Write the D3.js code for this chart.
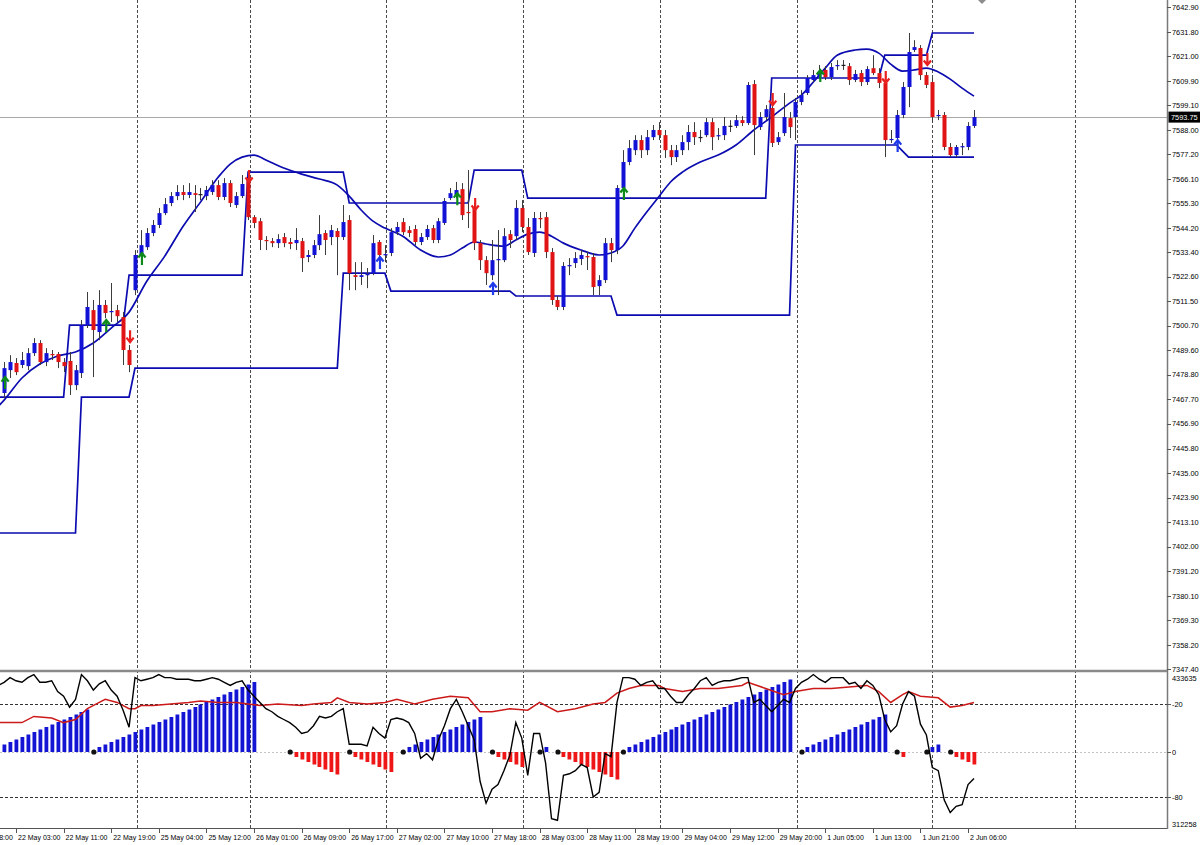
<!DOCTYPE html>
<html>
<head>
<meta charset="utf-8">
<script src="https://cdn.jsdelivr.net/npm/d3@7"></script>
<style>
  body { margin: 0; background: #fff; }
  svg { display: block; }
  text { font-family: "Liberation Sans", Arial, sans-serif; }
</style>
</head>
<body>
<svg id="chart" width="1200" height="845"></svg>
<script>
// ---- data ----
const barCount = 164;

// [open, high, low, close] per hourly bar
const candles = [
[7470.6,7484.4,7468.3,7481.7],[7480.8,7487.5,7477.3,7484.4],[7484.0,7486.2,7478.6,7479.9],[7483.1,7488.9,7481.7,7485.3],
[7482.6,7490.6,7480.8,7488.4],[7488.4,7495.1,7487.1,7492.9],[7492.9,7494.2,7483.1,7484.4],[7484.4,7490.6,7482.6,7488.4],
[7488.0,7489.8,7485.3,7487.5],[7488.0,7488.9,7481.7,7484.4],[7484.4,7486.2,7479.9,7482.6],[7484.9,7488.9,7469.7,7474.1],
[7474.1,7483.1,7471.9,7480.8],[7479.5,7503.2,7477.3,7500.9],[7500.9,7515.7,7499.6,7509.0],[7507.6,7512.1,7477.7,7498.7],
[7497.8,7516.5,7494.2,7509.9],[7509.9,7512.1,7504.0,7506.3],[7506.7,7519.7,7502.3,7507.2],[7507.6,7509.9,7502.3,7504.9],
[7504.5,7506.7,7483.1,7489.8],[7489.8,7492.0,7479.9,7483.1],
[7516.5,7534.4,7514.3,7532.2],[7532.2,7543.3,7530.8,7536.6],[7535.7,7544.2,7534.4,7542.0],[7542.0,7547.8,7540.6,7545.6],
[7545.6,7553.2,7544.2,7550.9],[7550.9,7557.6,7550.0,7554.9],[7555.4,7560.3,7554.0,7558.5],[7558.5,7563.4,7556.7,7560.3],
[7560.3,7563.4,7556.7,7559.0],[7559.0,7564.3,7557.6,7560.3],[7559.8,7563.4,7551.4,7559.0],[7559.4,7562.1,7556.7,7559.3],
[7558.5,7563.0,7556.7,7561.2],[7560.3,7565.6,7559.0,7563.4],[7563.4,7565.6,7556.7,7558.1],[7558.1,7566.5,7556.7,7564.3],
[7564.3,7565.6,7553.6,7555.4],[7554.5,7560.3,7553.2,7558.5],[7558.5,7567.9,7557.6,7563.9],[7566.5,7569.2,7547.8,7549.1],
[7549.1,7550.0,7544.2,7546.5],[7547.3,7548.7,7534.4,7538.9],[7538.9,7540.6,7534.4,7538.4],[7538.4,7539.8,7535.7,7537.5],
[7537.5,7541.5,7535.3,7539.3],[7540.2,7542.0,7535.7,7537.5],[7538.0,7539.8,7534.8,7537.1],[7537.5,7544.2,7534.4,7538.9],
[7538.4,7539.8,7524.6,7530.8],[7531.3,7534.4,7529.0,7532.2],[7532.2,7538.9,7530.8,7536.6],[7536.6,7550.0,7534.4,7541.5],
[7542.0,7543.3,7532.2,7538.9],[7540.2,7545.6,7536.6,7543.3],[7542.9,7544.2,7523.2,7540.2],[7540.2,7554.5,7538.9,7546.9],
[7547.8,7550.0,7516.5,7524.1],
[7523.2,7529.0,7516.5,7522.4],[7522.4,7529.0,7518.8,7523.2],[7523.2,7526.4,7517.4,7523.7],[7524.1,7541.1,7523.2,7537.5],
[7538.0,7538.9,7530.8,7532.2],[7532.2,7536.6,7529.0,7532.6],[7533.1,7544.2,7531.7,7542.4],[7542.4,7546.9,7541.1,7544.7],
[7546.9,7548.7,7541.1,7542.4],[7543.3,7545.1,7540.2,7542.0],[7543.8,7545.6,7536.6,7538.0],[7538.0,7542.0,7536.6,7540.2],
[7540.2,7545.6,7538.9,7543.8],[7544.2,7545.6,7537.5,7538.9],[7538.9,7548.7,7537.5,7547.3],[7546.5,7557.6,7545.6,7556.3],
[7557.6,7562.1,7556.7,7559.8],[7559.0,7564.8,7557.6,7561.2],[7561.6,7564.3,7547.8,7550.0],[7551.4,7570.1,7544.2,7550.9],
[7553.6,7555.4,7534.4,7537.5],[7537.5,7538.9,7525.5,7529.9],[7529.9,7531.7,7518.8,7524.1],[7523.2,7538.9,7521.0,7529.9],
[7529.9,7543.3,7514.3,7530.4],[7529.9,7544.2,7529.0,7540.6],[7541.5,7543.3,7535.3,7538.9],[7540.6,7556.7,7538.9,7553.2],
[7553.2,7556.7,7542.4,7544.7],[7544.7,7548.7,7532.2,7533.5],[7533.1,7551.4,7531.3,7548.7],[7548.7,7551.4,7544.2,7548.2],
[7549.1,7551.4,7530.8,7533.5],[7533.5,7535.3,7509.9,7512.1],[7512.1,7513.9,7507.6,7509.0],[7509.0,7529.0,7507.6,7527.3],
[7527.3,7530.8,7523.2,7527.7],[7528.6,7533.5,7526.4,7530.8],[7530.4,7534.4,7527.7,7532.2],[7531.7,7533.5,7525.5,7531.3],
[7531.3,7533.1,7514.3,7517.9],[7518.3,7523.2,7514.3,7521.0],[7521.0,7539.8,7519.7,7537.5],[7537.5,7539.8,7529.0,7534.4],
[7534.4,7563.4,7532.6,7562.1],[7562.1,7579.0,7560.3,7573.7],[7573.7,7583.5,7572.3,7579.9],
[7579.0,7585.7,7576.8,7583.5],[7583.5,7585.7,7575.5,7579.0],[7579.0,7588.0,7576.8,7584.8],[7584.8,7590.2,7583.5,7588.0],
[7588.0,7591.5,7583.5,7585.7],[7585.7,7588.0,7575.5,7579.0],[7579.0,7581.3,7572.3,7575.9],[7575.9,7581.3,7573.7,7579.0],
[7579.0,7585.7,7576.8,7582.6],[7582.6,7590.2,7579.0,7587.1],[7587.1,7591.5,7581.3,7584.8],
[7584.8,7588.0,7582.6,7584.9],[7585.7,7593.3,7584.8,7591.5],[7591.5,7593.3,7579.0,7584.8],[7585.3,7588.9,7583.5,7585.7],
[7585.7,7593.8,7583.5,7589.8],[7589.8,7592.4,7587.1,7589.9],[7589.8,7594.7,7588.9,7592.4],[7592.4,7594.2,7589.8,7591.1],
[7591.1,7609.4,7590.2,7608.1],[7608.5,7610.3,7576.8,7590.2],[7589.3,7596.0,7588.0,7593.8],[7593.8,7599.1,7592.4,7597.3],
[7597.8,7599.6,7580.4,7582.2],[7582.6,7587.1,7581.3,7584.8],[7586.6,7604.5,7585.3,7593.8],[7593.3,7596.0,7584.4,7589.3],
[7593.8,7602.3,7583.5,7600.5],[7600.5,7605.8,7599.1,7603.6],[7604.5,7612.5,7603.6,7611.2],[7610.3,7614.8,7609.4,7612.5],
[7611.6,7617.0,7611.2,7613.9],[7614.8,7616.5,7610.3,7611.6],[7611.6,7617.9,7610.3,7616.1],[7616.5,7619.2,7614.8,7617.0],
[7617.0,7619.2,7614.8,7617.1],[7616.5,7617.9,7608.1,7610.3],[7610.3,7614.8,7609.4,7613.0],[7613.4,7614.8,7607.6,7609.4],
[7609.4,7616.5,7608.1,7615.2],[7615.6,7621.4,7612.5,7613.4],[7613.4,7615.6,7606.7,7609.0],[7609.0,7610.3,7575.9,7583.5],
[7583.5,7588.0,7582.2,7584.0],[7584.4,7596.9,7582.6,7594.7],[7594.7,7609.4,7593.3,7607.2],[7607.2,7631.3,7598.2,7622.8],
[7623.7,7628.1,7622.8,7625.0],[7624.6,7625.9,7610.3,7612.5],[7612.5,7613.9,7606.7,7608.1],[7609.4,7611.2,7591.5,7593.8],
[7594.2,7596.9,7592.4,7594.7],[7594.7,7596.0,7579.0,7580.4],[7580.4,7582.2,7575.9,7576.8],[7576.8,7581.3,7575.9,7580.4],
[7580.4,7582.2,7576.8,7580.8],[7580.4,7591.5,7579.0,7589.8],[7589.8,7596.9,7588.9,7593.75]
];
const lastPrice = 7593.75;

// channel lines: [first bar, level]  (bar -1 is the partly visible bar at the left edge)
const upperSteps = [[-1,7468.8],[11,7500.9],[21,7523.2],[41,7569.2],[58,7555.4],[79,7570.1],[88,7557.6],[129,7611.2],[148,7621.4],[156,7631.3]];
const lowerSteps = [[-1,7408.1],[13,7468.8],[22,7481.7],[57,7524.1],[65,7516.1],[86,7513.9],[103,7505.4],[133,7581.3],[151,7578.6],[152,7575.9]];

// moving average line: [bar, price]
const maPoints = [[-1,7464.6],[0,7467.4],[3,7477.3],[6,7483.5],[9,7487.1],[12,7488.9],[15,7492.9],[18,7499.6],[21,7506.7],[24,7520.6],
[27,7531.7],[30,7544.7],[33,7555.8],[36,7567.0],[38,7572.8],[40,7575.9],[42,7576.8],[44,7574.6],[47,7571.0],[50,7568.3],
[53,7566.1],[56,7563.4],[58,7558.5],[60,7552.3],[62,7547.3],[64,7544.2],[67,7540.6],[70,7534.4],[73,7531.3],[75,7532.2],
[77,7535.3],[79,7538.0],[81,7537.1],[84,7536.2],[86,7538.9],[88,7541.5],[90,7542.4],[92,7540.6],[94,7537.5],[97,7534.4],
[100,7532.2],[102,7533.1],[104,7536.2],[106,7544.2],[108,7551.4],[110,7558.1],[112,7564.8],[114,7569.2],[117,7573.7],
[120,7576.8],[123,7581.3],[126,7588.0],[129,7593.8],[132,7600.0],[134,7603.6],[136,7609.4],[138,7615.6],[140,7621.4],
[143,7623.7],[145,7624.1],[147,7622.3],[149,7617.4],[151,7614.3],[153,7614.8],[155,7615.6],[157,7613.9],[159,7610.7],
[161,7606.7],[163,7603.1]];

// signal arrows: [bar, price at arrow tip]
const greenArrows = [[0,7477.7],[17,7503.2],[23,7533.1],[76,7559.8],[104,7562.1],[137,7614.8]];
const blueArrows  = [[63,7531.3],[82,7519.7],[150,7583.5]];
const redArrows   = [[21,7493.3],[41,7564.8],[79,7552.3],[129,7599.1],[148,7609.0],[155,7617.0]];

// sub window: Williams %R per bar, first value is bar -1
const wprStartBar = -1;
const wprValues = [-8,-6,-3,-5,-6,-3,-1,-6,-6,-5,-12,-15,-22,-17,-1,-5,-11,-7,-5,-11,-15,-24,-35,
-3,-5,-4,-3,-1,-3,-3,-4,-4,-4,-5,-5,-4,-3,-4,-6,-8,-6,-5,-11,-15,-19,-23,-25,-28,-30,-32,-35,-39,-38,-34,-28,-29,-28,-25,-23,
-46,-46,-46,-47,-35,-39,-42,-30,-29,-30,-32,-39,-55,-52,-56,-43,-34,-23,-17,-25,-34,-43,-70,-84,-75,-72,-63,-53,-32,-42,-66,
-39,-39,-58,-94,-95,-66,-65,-63,-59,-61,-80,-77,-52,-54,-19,-3,-3,-4,-8,-6,-5,-10,-10,-15,-19,-19,-14,-10,-5,-3,-8,-6,-5,-5,
-4,-3,-3,-19,-17,-21,-25,-21,-17,-19,-10,-6,-4,-1,-4,-6,-3,-3,-3,-7,-6,-10,-5,-8,-14,-30,-38,-34,-20,-12,-15,-33,-40,-61,-63,
-82,-90,-86,-85,-72,-68];

// sub window: signal line [bar, value]
const signalPoints = [[-1,-32],[0,-32],[3,-32],[5,-28],[8,-29],[10,-32],[12,-30],[14,-23],[16,-19],[17,-17],[19,-19],[21,-23],[22,-23],
[23,-21],[25,-21],[28,-20],[31,-19],[33,-18],[36,-19],[39,-19],[41,-20],[43,-21],[46,-20],[50,-21],[52,-20],[55,-19],[56,-16],
[58,-19],[61,-20],[64,-19],[66,-17],[69,-20],[72,-17],[75,-15],[78,-16],[80,-25],[82,-25],[85,-23],[88,-24],[90,-19],[93,-25],
[96,-23],[99,-20],[101,-19],[103,-13],[105,-10],[107,-8],[110,-8],[111,-10],[114,-12],[117,-10],[120,-10],[124,-8],[125,-6],
[128,-10],[131,-14],[133,-12],[136,-10],[139,-10],[142,-9],[145,-8],[147,-12],[149,-19],[151,-14],[152,-12],[154,-15],[157,-16],
[159,-22],[161,-21],[163,-19]];

// sub window: trend counter histogram per bar (null = no bar)
const histValues = [3,4,5,6,7,8,9,10,11,12,13,14,15,16,17,null,
2,3,4,5,6,7,8,9,10,11,12,13,14,15,16,17,18,19,20,21,22,23,24,25,26,27,28,null,null,null,null,null,null,
-2,-3,-4,-5,-6,-7,-8,-9,null,null,-2,-3,-4,-5,-6,-7,-8,null,null,
2,3,4,5,6,7,8,9,10,11,12,13,14,null,null,-2,-3,-4,-5,-6,null,null,null,2,null,null,
-2,-3,-4,-5,-6,-7,-8,-9,-10,-11,null,
2,3,4,5,6,7,8,9,10,11,12,13,14,15,16,17,18,19,20,21,22,23,24,25,26,27,28,29,null,null,
2,3,4,5,6,7,8,9,10,11,12,13,14,15,null,null,-2,null,null,null,null,2,3,null,null,-2,-3,-4,-5];
const resetDots = [15,48,58,67,82,90,93,104,134,150,155,159];

// axis labels
const priceTicks = ["7642.90","7631.80","7621.00","7609.90","7599.10","7588.00","7577.20","7566.10","7555.30","7544.20",
"7533.40","7522.60","7511.50","7500.70","7489.60","7478.80","7467.70","7456.90","7445.80","7435.00","7423.90","7413.10",
"7402.00","7391.20","7380.10","7369.30","7358.20","7347.40"];
const timeLabels = ["21 May 18:00","22 May 03:00","22 May 11:00","22 May 19:00","25 May 04:00","25 May 12:00","26 May 01:00",
"26 May 09:00","26 May 17:00","27 May 02:00","27 May 10:00","27 May 18:00","28 May 03:00","28 May 11:00","28 May 19:00",
"29 May 04:00","29 May 12:00","29 May 20:00","1 Jun 05:00","1 Jun 13:00","1 Jun 21:00","2 Jun 06:00"];
const timeLabelBars = [-6,2,10,18,26,34,42,50,58,66,74,82,90,98,106,114,122,130,138,146,154,162];
const daySeparators = [22.3,41.3,64.2,87.2,110.3,133.2,156,180];
const subLevels = [-20,-80];
const subTickLabels = [["-20",-20],["-80",-80]];
const subRange = ["433635","312258"];

// ---- drawing ----
const svg = d3.select("#chart");
const W = 1167;

const x = d3.scaleLinear().domain([0, barCount - 1]).range([4.1, 974]);
const y = d3.scaleLinear().domain([7347.4, 7642.9]).range([669, 7]);
const wy = d3.scaleLinear().domain([0, -100]).range([673, 828]);
const hy = d3.scaleLinear().domain([0, 10]).range([752, 727]);

svg.append("rect").attr("width", 1200).attr("height", 845).attr("fill", "#fff");

const defs = svg.append("defs");
defs.append("clipPath").attr("id", "clipMain")
  .append("rect").attr("x", 0).attr("y", 0).attr("width", W).attr("height", 669.5);
defs.append("clipPath").attr("id", "clipSub")
  .append("rect").attr("x", 0).attr("y", 673).attr("width", W).attr("height", 155);

// day separators
svg.append("g").selectAll("line")
  .data(daySeparators)
  .enter().append("line")
  .attr("x1", d => Math.round(x(d)) + 0.5).attr("x2", d => Math.round(x(d)) + 0.5)
  .attr("y1", 0).attr("y2", 828)
  .attr("stroke", "#4a4a4a").attr("stroke-width", 1).attr("stroke-dasharray", "3,2");

const main = svg.append("g").attr("clip-path", "url(#clipMain)");

// bid line
main.append("line")
  .attr("x1", 0).attr("x2", W)
  .attr("y1", Math.round(y(lastPrice)) + 0.5).attr("y2", Math.round(y(lastPrice)) + 0.5)
  .attr("stroke", "#a8a8a8");

function expandSteps(steps) {
  return d3.range(-1, barCount).map(function (i) {
    var v = steps[0][1];
    steps.forEach(function (s) { if (i >= s[0]) v = s[1]; });
    return [i, v];
  });
}

var priceLine = d3.line().x(d => x(d[0])).y(d => y(d[1]));

main.append("path").attr("d", priceLine(expandSteps(upperSteps)))
  .attr("fill", "none").attr("stroke", "#0b0bb0").attr("stroke-width", 1.7);
main.append("path").attr("d", priceLine(expandSteps(lowerSteps)))
  .attr("fill", "none").attr("stroke", "#0b0bb0").attr("stroke-width", 1.7);
main.append("path").attr("d", priceLine.curve(d3.curveMonotoneX)(maPoints))
  .attr("fill", "none").attr("stroke", "#0b0bb0").attr("stroke-width", 1.7);

// candles
var candle = main.append("g").selectAll("g")
  .data(candles)
  .enter().append("g");

candle.append("line")
  .attr("x1", (d, i) => Math.round(x(i)) + 0.5).attr("x2", (d, i) => Math.round(x(i)) + 0.5)
  .attr("y1", d => y(d[1])).attr("y2", d => y(d[2]))
  .attr("stroke", "#3c3c3c").attr("stroke-width", 1);

candle.append("rect")
  .attr("x", (d, i) => Math.round(x(i)) - 1.5)
  .attr("width", 4)
  .attr("y", d => y(Math.max(d[0], d[3])))
  .attr("height", d => Math.max(1.2, Math.abs(y(d[0]) - y(d[3]))))
  .attr("fill", function (d) {
    if (Math.abs(d[3] - d[0]) < 0.35) return "#202020";
    return d[3] > d[0] ? "#1212d6" : "#e01414";
  });

// arrows
function arrowPath(dir) {
  // tip at 0,0 ; dir = 1 points up, -1 points down
  return "M0,0 L0," + (12 * dir) + " M-3.6," + (4.5 * dir) + " L0,0 L3.6," + (4.5 * dir);
}
function drawArrows(list, color, dir) {
  main.append("g").selectAll("path")
    .data(list)
    .enter().append("path")
    .attr("transform", d => "translate(" + (x(d[0]) + 1) + "," + y(d[1]) + ")")
    .attr("d", arrowPath(dir))
    .attr("fill", "none").attr("stroke", color).attr("stroke-width", 2.2);
}
drawArrows(greenArrows, "#0b8a1a", 1);
drawArrows(blueArrows, "#1f3ae8", 1);
drawArrows(redArrows, "#e82020", -1);

// ---- sub window ----
const sub = svg.append("g").attr("clip-path", "url(#clipSub)");

sub.append("g").selectAll("line")
  .data(subLevels)
  .enter().append("line")
  .attr("x1", 0).attr("x2", W)
  .attr("y1", d => Math.round(wy(d)) + 0.5).attr("y2", d => Math.round(wy(d)) + 0.5)
  .attr("stroke", "#333").attr("stroke-dasharray", "3,2");

sub.append("line")
  .attr("x1", 0).attr("x2", W)
  .attr("y1", hy(0) + 0.5).attr("y2", hy(0) + 0.5)
  .attr("stroke", "#c4c4c4").attr("stroke-dasharray", "2,2");

sub.append("g").selectAll("rect")
  .data(histValues.map((v, i) => [i, v]).filter(d => d[1] !== null))
  .enter().append("rect")
  .attr("x", d => Math.round(x(d[0])) - 1.5)
  .attr("width", 3.8)
  .attr("y", d => Math.min(hy(0), hy(d[1])))
  .attr("height", d => Math.abs(hy(d[1]) - hy(0)))
  .attr("fill", d => d[1] > 0 ? "#1414d4" : "#ee1616");

sub.append("g").selectAll("circle")
  .data(resetDots)
  .enter().append("circle")
  .attr("cx", d => x(d) + 0.5).attr("cy", hy(0))
  .attr("r", 2.6).attr("fill", "#111");

var subLine = d3.line().x(d => x(d[0])).y(d => wy(d[1]));

sub.append("path").attr("d", subLine(signalPoints))
  .attr("fill", "none").attr("stroke", "#cc1a1a").attr("stroke-width", 1.5);
sub.append("path").attr("d", subLine(wprValues.map((v, i) => [i + wprStartBar, v])))
  .attr("fill", "none").attr("stroke", "#000").attr("stroke-width", 1.4);

// ---- frame & axes ----
svg.append("line").attr("x1", 0).attr("x2", W).attr("y1", 671).attr("y2", 671)
  .attr("stroke", "#8a8a8a").attr("stroke-width", 2.5);
svg.append("line").attr("x1", 0).attr("x2", W + 1).attr("y1", 828.5).attr("y2", 828.5)
  .attr("stroke", "#555");
svg.append("line").attr("x1", W + 0.5).attr("x2", W + 0.5).attr("y1", 0).attr("y2", 829)
  .attr("stroke", "#7a7a7a").attr("stroke-width", 1.5);

// chart shift marker
svg.append("path").attr("d", "M978,0 L986,0 L982,4 Z").attr("fill", "#8c8c8c");

// price axis
var pAxis = svg.append("g");
pAxis.selectAll("line")
  .data(priceTicks)
  .enter().append("line")
  .attr("x1", W).attr("x2", W + 4)
  .attr("y1", d => Math.round(y(+d)) + 0.5).attr("y2", d => Math.round(y(+d)) + 0.5)
  .attr("stroke", "#555");
pAxis.selectAll("text")
  .data(priceTicks)
  .enter().append("text")
  .attr("x", W + 5).attr("y", d => y(+d) + 2.8)
  .style("font-size", "7.4px").attr("fill", "#000")
  .text(d => d);

// last price box
svg.append("rect")
  .attr("x", W + 1.5).attr("y", y(lastPrice) - 5.5)
  .attr("width", 32).attr("height", 11).attr("fill", "#000");
svg.append("text")
  .attr("x", W + 4).attr("y", y(lastPrice) + 2.8)
  .style("font-size", "7.4px").attr("fill", "#fff")
  .text(lastPrice.toFixed(2));

// sub window axis
svg.append("g").selectAll("text")
  .data(subTickLabels)
  .enter().append("text")
  .attr("x", W + 5).attr("y", d => wy(d[1]) + 2.8)
  .style("font-size", "7.4px").text(d => d[0]);
svg.append("text").attr("x", W + 5).attr("y", hy(0) + 2.8).style("font-size", "7.4px").text("0");
svg.append("text").attr("x", W + 5).attr("y", wy(0) + 7.5).style("font-size", "7.4px").text(subRange[0]);
svg.append("text").attr("x", W + 5).attr("y", wy(-100) - 1).style("font-size", "7.4px").text(subRange[1]);
svg.append("g").selectAll("line")
  .data([wy(-20), hy(0), wy(-80)])
  .enter().append("line")
  .attr("x1", W).attr("x2", W + 4)
  .attr("y1", d => Math.round(d) + 0.5).attr("y2", d => Math.round(d) + 0.5)
  .attr("stroke", "#555");

// time axis (first label is cut by the left edge, as in the terminal)
var tAxis = svg.append("g");
tAxis.selectAll("line")
  .data(timeLabelBars)
  .enter().append("line")
  .attr("x1", d => Math.round(x(d)) + 0.5).attr("x2", d => Math.round(x(d)) + 0.5)
  .attr("y1", 829).attr("y2", 833)
  .attr("stroke", "#555");
tAxis.selectAll("text")
  .data(timeLabels)
  .enter().append("text")
  .attr("x", (d, i) => x(timeLabelBars[i]) + 2)
  .attr("y", 840)
  .style("font-size", "7px").attr("fill", "#000")
  .text(d => d);
</script>
</body>
</html>
